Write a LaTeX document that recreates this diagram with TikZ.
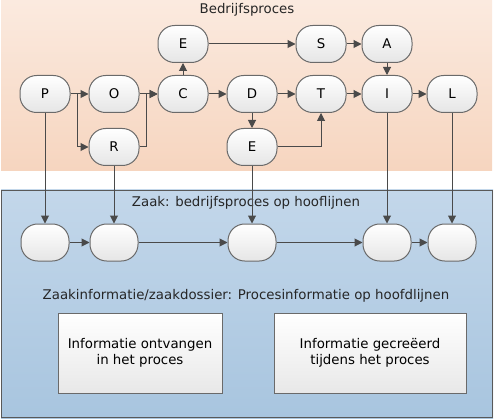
\documentclass[tikz,border=0pt]{standalone}
\usepackage{fontspec}
\setmainfont{DejaVu Sans}
\usetikzlibrary{arrows.meta,calc}
\definecolor{peachtop}{HTML}{FBEADF}
\definecolor{peachbot}{HTML}{F6D5BF}
\definecolor{bluetop}{HTML}{C3D7EA}
\definecolor{bluebot}{HTML}{A8C5DF}
\definecolor{linec}{HTML}{4A4A4A}
\definecolor{nodeb}{HTML}{6A6A6A}
\tikzset{
  proc/.style={draw=nodeb, line width=0.75pt, rounded corners=12.5pt, top color=white, bottom color=black!10,
    minimum width=37.5pt, minimum height=27.75pt, inner sep=0pt, font=\fontsize{10}{12}\selectfont},
  sproc/.style={proc, minimum width=36pt},
  infobox/.style={draw=nodeb, line width=0.75pt, top color=white, bottom color=black!9, inner sep=0pt,
    align=center, font=\fontsize{10}{12.2}\selectfont},
  arr/.style={draw=linec, line width=0.75pt, -{Triangle[length=6pt,width=6pt]}},
  ln/.style={draw=linec, line width=0.75pt},
  ttl/.style={font=\fontsize{10}{12}\selectfont, text=black!85, inner sep=0pt}
}
\begin{document}
\begin{tikzpicture}[x=0.75pt,y=-0.75pt]
\useasboundingbox (0,0) rectangle (495,420);
% backgrounds
\shade[top color=peachtop, bottom color=peachbot] (1,1) rectangle (492,171);
\shade[top color=bluetop, bottom color=bluebot] (1,190) rectangle (493,418);
\draw[draw=black!65, line width=0.9pt] (1.5,190.5) rectangle (492.5,417.5);
% titles
\node[ttl] (t1) at (247,10) {Bedrijfsproces};
\node[ttl] (t2) at (246,203) {Zaak: bedrijfsproces op hooflijnen};
\node[ttl] (t3) at (246,296) {Zaakinformatie/zaakdossier: Procesinformatie op hoofdlijnen};
% top process nodes
\node[proc] (P) at (45,94) {P};
\node[proc] (O) at (114,94) {O};
\node[proc] (R) at (114,147) {R};
\node[proc] (C) at (183,94) {C};
\node[proc] (E1) at (183,44) {E};
\node[proc] (D) at (252,94) {D};
\node[proc] (E2) at (252,147) {E};
\node[proc] (S) at (321,44) {S};
\node[proc] (A) at (387,44) {A};
\node[proc] (T) at (321,94) {T};
\node[proc] (I) at (387,94) {I};
\node[proc] (L) at (452,94) {L};
% bottom nodes
\node[sproc] (b1) at (45,242.5) {};
\node[sproc] (b2) at (114,242.5) {};
\node[sproc] (b3) at (252,242.5) {};
\node[sproc] (b4) at (387,242.5) {};
\node[sproc] (b5) at (452,242.5) {};
% info boxes
\node[infobox, minimum width=123pt, minimum height=60pt] (i1) at (140,353) {Informatie ontvangen\\in het proces};
\node[infobox, minimum width=144pt, minimum height=60pt] (i2) at (370,353) {Informatie gecreëerd\\tijdens het proces};
% top connectors
\draw[arr] (P) -- (O);
\draw[arr] (P.east) -- ++(7,0) |- (R.west);
\draw[arr] (O) -- (C);
\draw[arr] (R.east) -- ++(7,0) |- (C.west);
\draw[arr] (C) -- (E1);
\draw[arr] (E1) -- (S);
\draw[arr] (S) -- (A);
\draw[arr] (A) -- (I);
\draw[arr] (C) -- (D);
\draw[arr] (D) -- (T);
\draw[arr] (T) -- (I);
\draw[arr] (I) -- (L);
\draw[arr] (D) -- (E2);
\draw[arr] (E2.east) -| (T.south);
% vertical connectors
\draw[arr] (P) -- (b1);
\draw[arr] (R) -- (b2);
\draw[arr] (E2) -- (b3);
\draw[arr] (I) -- (b4);
\draw[arr] (L) -- (b5);
% bottom connectors
\draw[arr] (b1) -- (b2);
\draw[arr] (b2) -- (b3);
\draw[arr] (b3) -- (b4);
\draw[arr] (b4) -- (b5);
\end{tikzpicture}
\end{document}
